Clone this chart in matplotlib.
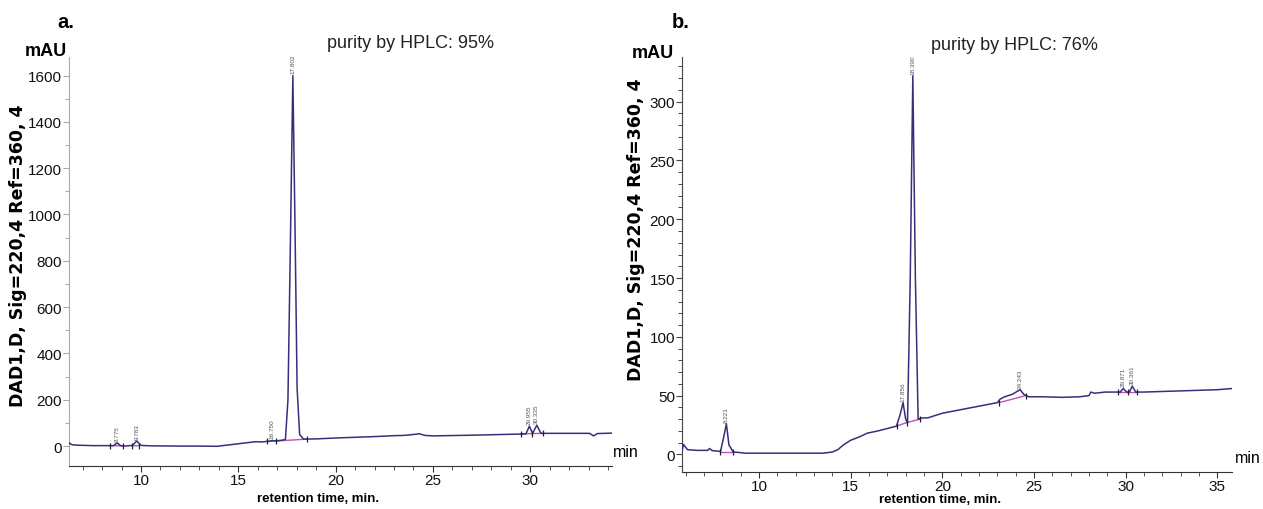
import matplotlib
matplotlib.use("Agg")
import matplotlib.pyplot as plt
from matplotlib.ticker import MultipleLocator

plt.rcParams['font.family'] = ['Liberation Sans', 'DejaVu Sans']

# ---------------- Panel a data ----------------
t_a = [6.3, 6.45, 6.7, 7.5, 8.3, 8.6, 8.775, 8.95, 9.2, 9.55, 9.783, 10.0, 10.5, 12.0, 13.0,
       13.9, 14.3, 15.0, 15.6, 15.9, 16.2, 16.6, 16.75, 16.9, 17.2, 17.42, 17.55, 17.68, 17.802,
       17.92, 18.02, 18.15, 18.35, 19.0, 20.0, 21.0, 22.0, 23.0, 23.5, 24.0, 24.3, 24.6, 25.0,
       27.0, 28.5, 29.5, 29.78, 29.955, 30.12, 30.335, 30.55, 31.0, 32.5, 33.05, 33.25, 33.45, 34.2]
y_a = [14, 6, 4, 2, 2, 2, 14, 2, 0, 3, 22, 3, 1, 0, 0,
       -1, 3, 10, 16, 19, 18, 21, 24, 22, 25, 28, 200, 900, 1600,
       900, 250, 50, 30, 31, 35, 38, 41, 45, 46, 50, 53, 46, 44,
       47, 50, 52, 53, 86, 55, 90, 55, 55, 55, 55, 44, 54, 56]
peaks_a_t = [8.775, 9.783, 16.750, 17.802, 29.955, 30.335]
peaks_a_y = [14, 22, 24, 1600, 86, 90]
peaks_a_lbl = ["8.775", "9.783", "16.750", "17.802", "29.955", "30.335"]
base_a = [([8.4, 9.07], [2, 1]), ([9.54, 9.9], [1, 2]), ([16.48, 16.94], [21, 22]),
          ([16.94, 18.53], [22, 30]), ([29.5, 30.08], [52, 54]), ([30.08, 30.67], [54, 55])]
marks_a_t = [8.4, 9.07, 9.54, 9.9, 16.48, 16.94, 18.53, 29.5, 30.08, 30.67]
marks_a_y = [2, 1, 1, 2, 21, 22, 30, 52, 54, 55]

# ---------------- Panel b data ----------------
t_b = [5.8, 5.88, 5.95, 6.1, 6.6, 7.2, 7.3, 7.45, 7.9, 8.08, 8.221, 8.36, 8.6, 9.0, 9.2,
       10.0, 12.0, 13.5, 14.0, 14.3, 14.6, 15.0, 15.5, 15.9, 16.5, 17.0, 17.5, 17.7, 17.856,
       18.0, 18.1, 18.25, 18.39, 18.53, 18.68, 18.9, 19.2, 20.0, 21.0, 22.0, 23.0, 23.15,
       23.4, 23.8, 24.243, 24.45, 24.7, 25.5, 26.5, 27.5, 28.0, 28.1, 28.3, 28.9, 29.7,
       29.871, 30.05, 30.2, 30.361, 30.55, 31.0, 33.0, 35.0, 35.8]
y_b = [2.5, 8.5, 7, 4, 3.4, 3.4, 5, 3.2, 2.5, 15, 26, 8, 2, 1.5, 1,
       1, 1, 1, 2, 4, 8, 12, 15, 18, 20, 22, 24, 34, 44,
       30, 27, 150, 322, 150, 30, 31, 31, 35, 38, 41, 44, 47,
       49, 51, 55, 51, 49, 49, 48.5, 49, 50, 53, 52, 53, 53,
       56, 53, 53, 58, 53, 53, 54, 55, 56]
peaks_b_t = [8.221, 17.856, 18.390, 24.243, 29.871, 30.361]
peaks_b_y = [26, 44, 322, 55, 56, 58]
peaks_b_lbl = ["8.221", "17.856", "18.390", "24.243", "29.871", "30.361"]
base_b = [([7.9, 8.6], [2, 2]), ([17.5, 18.05], [24, 27]), ([18.05, 18.8], [27, 30]),
          ([23.1, 24.55], [44, 50]), ([29.6, 30.1], [53, 53]), ([30.1, 30.6], [53, 53])]
marks_b_t = [7.9, 8.6, 17.5, 18.05, 18.8, 23.1, 24.55, 29.6, 30.1, 30.6]
marks_b_y = [2, 2, 24, 27, 30, 44, 50, 53, 53, 53]

W, H = 1263, 510
fig = plt.figure(figsize=(W / 100, H / 100), dpi=100)

def px(x, y):
    return x / W, 1 - y / H

trace_col = '#372f7c'
base_col = '#c050c0'

def draw(ax, t, y, pk_t, pk_y, pk_lbl, bases, mk_t, mk_y, xlim, ylim, ymaj, ymin_, axcol):
    for bx, by in bases:
        ax.plot(bx, by, color=base_col, lw=1.0, zorder=2)
    ax.plot(t, y, color=trace_col, lw=1.1, zorder=3)
    ax.plot(mk_t, mk_y, ls='none', marker='|', ms=5, mew=0.9, color='#222222', zorder=4)
    for xt, yt, lb in zip(pk_t, pk_y, pk_lbl):
        ax.annotate(lb, (xt, yt), xytext=(0, 1.5), textcoords='offset points',
                    rotation=90, fontsize=4.6, color='#555555', ha='center', va='bottom')
    ax.set_xlim(*xlim)
    ax.set_ylim(*ylim)
    for s in ['top', 'right']:
        ax.spines[s].set_visible(False)
    ax.spines['left'].set_color(axcol)
    ax.spines['bottom'].set_color('#333333')
    ax.xaxis.set_major_locator(MultipleLocator(5))
    ax.xaxis.set_minor_locator(MultipleLocator(1))
    ax.yaxis.set_major_locator(MultipleLocator(ymaj))
    ax.yaxis.set_minor_locator(MultipleLocator(ymin_))
    ax.tick_params(axis='both', which='major', labelsize=11, length=4, width=0.8,
                   colors='#333333', labelcolor='#111111', pad=1)
    ax.tick_params(axis='both', which='minor', length=3, width=0.7, colors='#555555')
    ax.tick_params(axis='y', which='both', colors=axcol, labelcolor='#111111')

ax_a = fig.add_axes([69 / W, 1 - 467 / H, (612 - 69) / W, (467 - 58) / H])
draw(ax_a, t_a, y_a, peaks_a_t, peaks_a_y, peaks_a_lbl, base_a, marks_a_t, marks_a_y,
     (6.3, 34.2), (-86, 1680), 200, 100, '#aaaaaa')

ax_b = fig.add_axes([682 / W, 1 - 473 / H, (1232 - 682) / W, (473 - 58) / H])
draw(ax_b, t_b, y_b, peaks_b_t, peaks_b_y, peaks_b_lbl, base_b, marks_b_t, marks_b_y,
     (5.8, 35.8), (-15, 338), 50, 10, '#444444')

# Texts
ylab = "DAD1,D, Sig=220,4 Ref=360, 4"
fig.text(*px(66, 22), "a.", fontsize=14.5, fontweight='bold', ha='center', va='center')
fig.text(*px(681, 22), "b.", fontsize=14.5, fontweight='bold', ha='center', va='center')
fig.text(*px(46, 52), "mAU", fontsize=13, fontweight='bold', ha='center', va='center')
fig.text(*px(653, 54), "mAU", fontsize=13, fontweight='bold', ha='center', va='center')
fig.text(*px(18, 256), ylab, fontsize=12.5, fontweight='bold', family='DejaVu Sans',
         rotation=90, ha='center', va='center')
fig.text(*px(636, 230), ylab, fontsize=12.5, fontweight='bold', family='DejaVu Sans',
         rotation=90, ha='center', va='center')
fig.text(*px(318, 499), "retention time, min.", fontsize=9.5, fontweight='bold', ha='center', va='center')
fig.text(*px(940, 500), "retention time, min.", fontsize=9.5, fontweight='bold', ha='center', va='center')
fig.text(*px(626, 453), "min", fontsize=11.5, ha='center', va='center')
fig.text(*px(1248, 459), "min", fontsize=11.5, ha='center', va='center')
fig.text(*px(327, 44), "purity by HPLC: 95%", fontsize=13, ha='left', va='center', color='#222222')
fig.text(*px(931, 46), "purity by HPLC: 76%", fontsize=13, ha='left', va='center', color='#222222')

fig.savefig("out.png", dpi=100)
